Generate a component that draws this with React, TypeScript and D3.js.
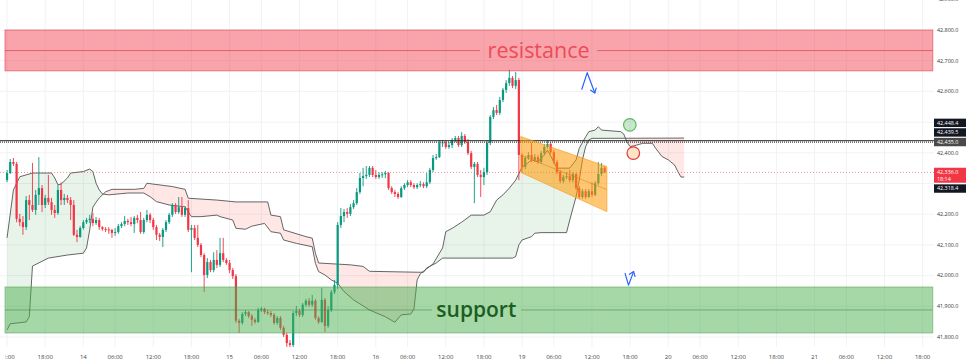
import React from "react";
import * as d3 from "d3";

// ---------------- data ----------------
const FIRST_BAR = -12; // bar index of first candle (bar 0 = 13th 18:00)
const FIRST_OPEN = 42311;

const closes = [
  42334, 42370, 42364, 42185, 42174, 42158, 42246, 42230, 42214, 42263,
  42285, 42230, 42253, 42239, 42214, 42204, 42279, 42246, 42253, 42246,
  42230, 42133, 42126, 42155, 42174, 42181, 42185, 42171, 42181, 42158,
  42152, 42150, 42149, 42139, 42142, 42161, 42168, 42178, 42174, 42168,
  42188, 42181, 42142, 42181, 42198, 42181, 42158, 42133, 42126, 42149,
  42174, 42198, 42230, 42207, 42223, 42198, 42220, 42149, 42155, 42123,
  42100, 42067, 42002, 42044, 42018, 42051, 42035, 42073, 42051, 42041,
  42018, 41998, 41853, 41846, 41875, 41881, 41868, 41856, 41849, 41888,
  41892, 41881, 41878, 41872, 41846, 41862, 41830, 41807, 41780, 41774,
  41878, 41885, 41872, 41905, 41918, 41905, 41918, 41862, 41849, 41921,
  41836, 41888, 41946, 41970, 42165, 42194, 42207, 42201, 42223, 42236,
  42272, 42318, 42324, 42328, 42351, 42328, 42321, 42328, 42330, 42334,
  42285, 42272, 42266, 42256, 42285, 42295, 42304, 42295, 42288, 42295,
  42298, 42291, 42304, 42344, 42383, 42386, 42432, 42434, 42419, 42425,
  42442, 42448, 42425, 42455, 42435, 42399, 42354, 42364, 42328, 42321,
  42337, 42432, 42517, 42539, 42530, 42572, 42605, 42627, 42644, 42618,
  42637, 42393, 42354, 42383, 42393, 42377, 42386, 42370, 42399, 42419,
  42429, 42402, 42370, 42337, 42308, 42321, 42324, 42311, 42331, 42285,
  42256, 42275, 42256, 42275, 42263, 42301, 42331, 42351, 42336,
];

const highs = [
  42344, 42380, 42383, 42370, 42201, 42194, 42259, 42263, 42367, 42279,
  42386, 42295, 42263, 42328, 42253, 42230, 42295, 42304, 42266, 42263,
  42256, 42246, 42149, 42161, 42181, 42188, 42198, 42204, 42191, 42188,
  42161, 42158, 42158, 42152, 42155, 42168, 42174, 42194, 42185, 42191,
  42194, 42198, 42207, 42188, 42214, 42204, 42188, 42165, 42139, 42155,
  42181, 42204, 42236, 42236, 42256, 42256, 42226, 42246, 42165, 42165,
  42165, 42106, 42073, 42057, 42051, 42076, 42083, 42123, 42123, 42057,
  42051, 42025, 42005, 41859, 41881, 41888, 41885, 41875, 41862, 41895,
  41898, 41895, 41888, 41885, 41878, 41868, 41868, 41836, 41813, 41790,
  41885, 41901, 41892, 41911, 41924, 41927, 41937, 41924, 41868, 41960,
  41927, 41901, 41953, 41986, 42174, 42220, 42217, 42220, 42233, 42246,
  42285, 42334, 42351, 42357, 42357, 42357, 42344, 42337, 42337, 42341,
  42337, 42291, 42279, 42272, 42291, 42301, 42311, 42311, 42301, 42301,
  42308, 42304, 42334, 42351, 42393, 42396, 42439, 42442, 42439, 42435,
  42448, 42455, 42455, 42467, 42461, 42445, 42406, 42370, 42370, 42344,
  42351, 42439, 42523, 42549, 42556, 42582, 42611, 42637, 42670, 42650,
  42663, 42644, 42399, 42390, 42402, 42432, 42396, 42393, 42406, 42429,
  42442, 42435, 42409, 42377, 42344, 42328, 42337, 42344, 42337, 42334,
  42291, 42282, 42282, 42282, 42304, 42308, 42370, 42367, 42357,
];

const lows = [
  42304, 42331, 42357, 42174, 42161, 42133, 42149, 42181, 42207, 42198,
  42230, 42207, 42220, 42230, 42198, 42188, 42198, 42230, 42230, 42236,
  42181, 42129, 42109, 42123, 42150, 42168, 42171, 42161, 42165, 42149,
  42146, 42142, 42136, 42123, 42129, 42136, 42155, 42161, 42165, 42161,
  42139, 42171, 42136, 42136, 42174, 42171, 42149, 42116, 42113, 42093,
  42142, 42168, 42191, 42201, 42201, 42191, 42191, 42142, 42011, 42116,
  42093, 42060, 41946, 41992, 42011, 42011, 42025, 42028, 42044, 42035,
  42008, 41989, 41846, 41813, 41840, 41868, 41862, 41836, 41843, 41846,
  41881, 41875, 41872, 41865, 41840, 41840, 41823, 41800, 41761, 41758,
  41767, 41868, 41865, 41865, 41898, 41898, 41898, 41856, 41843, 41846,
  41816, 41830, 41881, 41940, 41956, 42155, 42174, 42188, 42194, 42217,
  42230, 42266, 42291, 42315, 42321, 42321, 42315, 42315, 42318, 42318,
  42279, 42266, 42256, 42250, 42253, 42279, 42288, 42288, 42282, 42282,
  42288, 42285, 42285, 42298, 42337, 42377, 42383, 42419, 42413, 42413,
  42416, 42435, 42419, 42419, 42429, 42393, 42347, 42236, 42321, 42256,
  42295, 42328, 42425, 42510, 42523, 42523, 42565, 42595, 42618, 42611,
  42608, 42311, 42337, 42347, 42377, 42370, 42370, 42364, 42364, 42393,
  42413, 42396, 42364, 42331, 42301, 42301, 42315, 42304, 42304, 42279,
  42250, 42250, 42250, 42253, 42256, 42259, 42295, 42324, 42334,
];

// Ichimoku cloud spans: [bar, price]
const spanA: [number, number][] = [
  [-12, 42123], [-10, 42279], [-8, 42322], [-4, 42334], [2, 42334], [3, 42318],
  [4, 42296], [5, 42298], [7, 42318], [8, 42334], [12, 42339], [14, 42347],
  [15, 42339], [16, 42301], [17, 42279], [18, 42266], [20, 42263], [26, 42269],
  [31, 42269], [33, 42257], [35, 42241], [39, 42230], [44, 42224], [46, 42192],
  [49, 42192], [54, 42197], [55, 42192], [59, 42181], [60, 42154], [63, 42151],
  [65, 42161], [69, 42170], [71, 42143], [74, 42138], [75, 42116], [79, 42105],
  [84, 42094], [85, 42040], [86, 42013], [88, 42002], [90, 41986], [92, 41975],
  [94, 41948], [97, 41921], [102, 41888], [107, 41866], [110, 41848], [112, 41872],
  [115, 41875], [116, 41891], [117, 41986], [118, 42006], [120, 42022], [122, 42038],
  [125, 42090], [126, 42143], [128, 42154], [131, 42174], [134, 42197], [138, 42197],
  [140, 42208], [142, 42246], [144, 42263], [146, 42285], [148, 42311], [150, 42354],
  [151, 42360], [153, 42377], [155, 42371], [157, 42393], [158, 42409], [160, 42371],
  [161, 42350], [165, 42350], [167, 42377], [168, 42415], [170, 42452], [171, 42469],
  [173, 42474], [174, 42485], [175, 42474], [181, 42469], [182, 42461], [183, 42435],
  [184, 42420], [186, 42425], [188, 42431], [191, 42431], [192, 42415], [194, 42388],
  [196, 42377], [198, 42360], [199, 42339], [200, 42321], [201, 42321],
];
const spanB: [number, number][] = [
  [-12, 41823], [-11, 41843], [-6, 41849], [-5, 41866], [-4, 42031], [1, 42057],
  [7, 42067], [12, 42073], [13, 42090], [14, 42149], [15, 42223], [16, 42239],
  [17, 42253], [19, 42273], [21, 42281], [28, 42281], [31, 42284], [32, 42301],
  [34, 42298], [40, 42290], [44, 42281], [45, 42252], [54, 42246], [60, 42240],
  [70, 42240], [71, 42197], [74, 42192], [75, 42149], [82, 42127], [84, 42122],
  [85, 42073], [86, 42041], [96, 42035], [100, 42030], [102, 42014], [117, 42011],
  [119, 42011], [120, 42025], [123, 42041], [125, 42057], [147, 42057], [148, 42062],
  [149, 42100], [150, 42116], [153, 42127], [154, 42138], [156, 42140], [164, 42140],
  [165, 42181], [167, 42257], [168, 42311], [169, 42377], [170, 42420], [171, 42442],
  [172, 42447], [201, 42448],
];

const timeTickBars = [-12, 0, 12, 22, 34, 46, 58, 68, 80, 92, 104, 114, 126, 138, 150, 160, 172, 184, 196, 206, 218, 230, 242, 252, 264, 276];
const timeTickLabels = ["12:00", "18:00", "14", "06:00", "12:00", "18:00", "15", "06:00", "12:00", "18:00", "16", "06:00", "12:00", "18:00", "19", "06:00", "12:00", "18:00", "20", "06:00", "12:00", "18:00", "21", "06:00", "12:00", "18:00"];

const priceGrid = [41800, 41900, 42000, 42100, 42200, 42300, 42400, 42500, 42600, 42700, 42800, 42900];
const priceTickLabels = [41800, 41900, 42000, 42100, 42200, 42400, 42600, 42700, 42800, 42900];

const resistanceZone = [42667, 42733, 42800]; // low, mid, high
const supportZone = [41813, 41888, 41963];
const zoneBars = [-12.65, 279.2];
const resistanceGapBars = [136.8, 173.6];
const supportGapBars = [121.7, 149.7];
const resistanceLabelBar = 155.2;
const supportLabelBar = 135.6;

const channelBars = [149.6, 176.7];
const channelTop = [42453, 42355];
const channelMid = [42392, 42280];
const channelBottom = [42336, 42208];

const solidLevel = 42439.5;
const dottedLevel = 42435;
const lastPrice = 42336;

const arrowDown: [number, number][] = [[168.8, 42607], [170.5, 42661], [172.9, 42595]];
const arrowUp: [number, number][] = [[182.4, 42007], [183.5, 41969], [185.1, 42013]];
const greenCircle: [number, number] = [183.9, 42491];
const redCircle: [number, number] = [185.0, 42399];

const stackedLabels = ["42,448.4", "42,439.5", "42,435.0"]; // top -> bottom, anchored on dottedLevel
const lastLabel = ["42,336.0", "18:14"];
const belowLabel = "42,318.4";

// ---------------- layout ----------------
const W = 974;
const H = 364;
const PLOT_R = 934;
const PLOT_B = 347;
const PANE_L = 5.5;

const x = d3.scaleLinear().domain([0, 100]).range([45.2, 45.2 + 317.9]);
const y = d3.scaleLinear().domain([41800, 42800]).range([337, 30]);

const UP = "#089981";
const DOWN = "#f23645";

function arrowHead(p: [number, number], q: [number, number], len = 5, ang = Math.PI / 5) {
  const a = Math.atan2(q[1] - p[1], q[0] - p[0]);
  const l = [q[0] - len * Math.cos(a - ang), q[1] - len * Math.sin(a - ang)];
  const r = [q[0] - len * Math.cos(a + ang), q[1] - len * Math.sin(a + ang)];
  return `M${l[0]},${l[1]}L${q[0]},${q[1]}L${r[0]},${r[1]}`;
}

export default function App() {
  const line = d3
    .line<[number, number]>()
    .x((d) => x(d[0]))
    .y((d) => y(d[1]));

  const cloudPoly = (line([...spanA, ...spanB.slice().reverse()]) || "") + "Z";
  const aboveB = (line([...spanB, [206, 43600], [-17, 43600]]) || "") + "Z";
  const belowB = (line([...spanB, [206, 41000], [-17, 41000]]) || "") + "Z";

  const chanPoly =
    (line([
      [channelBars[0], channelTop[0]],
      [channelBars[1], channelTop[1]],
      [channelBars[1], channelBottom[1]],
      [channelBars[0], channelBottom[0]],
    ]) || "") + "Z";

  const arrowPx = (pts: [number, number][]) => pts.map((p) => [x(p[0]), y(p[1])] as [number, number]);
  const a1 = arrowPx(arrowDown);
  const a2 = arrowPx(arrowUp);

  const zx0 = x(zoneBars[0]);
  const zx1 = x(zoneBars[1]);

  const boxH = 8.4;
  const boxGap = 1.2;
  const dottedY = y(dottedLevel);
  const lastY = y(lastPrice);
  const fontFam = "'Open Sans', 'DejaVu Sans', sans-serif";

  return (
    <svg
      width={W}
      height={H}
      style={{ position: "absolute", left: 0, top: 0, background: "#fff" }}
      fontFamily={fontFam}
    >
      <defs>
        <clipPath id="plot">
          <rect x={0} y={0} width={PLOT_R} height={PLOT_B} />
        </clipPath>
        <clipPath id="timeAxis">
          <rect x={PANE_L} y={PLOT_B} width={PLOT_R + 40} height={H - PLOT_B} />
        </clipPath>
        <clipPath id="aboveB">
          <path d={aboveB} />
        </clipPath>
        <clipPath id="belowB">
          <path d={belowB} />
        </clipPath>
      </defs>

      {/* grid */}
      <g stroke="#f0f2f6" strokeWidth={1}>
        {priceGrid.map((p) => (
          <line key={"h" + p} x1={0} x2={PLOT_R} y1={y(p)} y2={y(p)} />
        ))}
        {timeTickBars.map((b, i) => (
          <line key={"v" + i} x1={x(b)} x2={x(b)} y1={0} y2={PLOT_B} />
        ))}
      </g>

      <g clipPath="url(#plot)">
        {/* cloud */}
        <g clipPath="url(#aboveB)">
          <path d={cloudPoly} fill="rgba(67,160,71,0.12)" />
        </g>
        <g clipPath="url(#belowB)">
          <path d={cloudPoly} fill="rgba(244,67,54,0.13)" />
        </g>
        <path d={line(spanA) || ""} fill="none" stroke="#555" strokeWidth={1} strokeOpacity={0.9} />
        <path d={line(spanB) || ""} fill="none" stroke="#555" strokeWidth={1} strokeOpacity={0.9} />

        {/* last price dotted line */}
        <line x1={0} x2={PLOT_R} y1={lastY} y2={lastY} stroke={DOWN} strokeOpacity={0.55} strokeDasharray="1,2" />

        {/* candles */}
        {closes.map((c, i) => {
          const k = FIRST_BAR + i;
          const o = i === 0 ? FIRST_OPEN : closes[i - 1];
          const col = c >= o ? UP : DOWN;
          const cx = x(k);
          const yt = y(Math.max(o, c));
          const yb = y(Math.min(o, c));
          return (
            <g key={i}>
              <line x1={cx} x2={cx} y1={y(highs[i])} y2={y(lows[i])} stroke={col} strokeWidth={0.9} />
              <rect x={cx - 1.1} width={2.2} y={yt} height={Math.max(1, yb - yt)} fill={col} />
            </g>
          );
        })}

        {/* horizontal levels */}
        <line x1={0} x2={PLOT_R} y1={y(solidLevel)} y2={y(solidLevel)} stroke="#2a2a2a" strokeWidth={1} />
        <line x1={0} x2={PLOT_R} y1={dottedY} y2={dottedY} stroke="#444" strokeWidth={1.2} strokeDasharray="1,1" />

        {/* resistance zone */}
        <rect
          x={zx0}
          width={zx1 - zx0}
          y={y(resistanceZone[2])}
          height={y(resistanceZone[0]) - y(resistanceZone[2])}
          fill="rgba(242,54,69,0.45)"
          stroke="rgba(220,50,60,0.55)"
          strokeWidth={1}
        />
        <line x1={zx0} x2={x(resistanceGapBars[0])} y1={y(resistanceZone[1])} y2={y(resistanceZone[1])} stroke="rgba(210,40,55,0.55)" />
        <line x1={x(resistanceGapBars[1])} x2={zx1} y1={y(resistanceZone[1])} y2={y(resistanceZone[1])} stroke="rgba(210,40,55,0.55)" />
        <text
          x={x(resistanceLabelBar)}
          y={y(resistanceZone[1])}
          dy="0.33em"
          textAnchor="middle"
          fontSize={21.5}
          fill="#ec4b58"
          fontWeight={500}
        >
          resistance
        </text>

        {/* support zone */}
        <rect
          x={zx0}
          width={zx1 - zx0}
          y={y(supportZone[2])}
          height={y(supportZone[0]) - y(supportZone[2])}
          fill="rgba(76,175,80,0.5)"
          stroke="rgba(60,150,64,0.45)"
          strokeWidth={1}
        />
        <line x1={zx0} x2={x(supportGapBars[0])} y1={y(supportZone[1])} y2={y(supportZone[1])} stroke="rgba(46,125,50,0.45)" />
        <line x1={x(supportGapBars[1])} x2={zx1} y1={y(supportZone[1])} y2={y(supportZone[1])} stroke="rgba(46,125,50,0.45)" />
        <text
          x={x(supportLabelBar)}
          y={y(supportZone[1])}
          dy="0.33em"
          textAnchor="middle"
          fontSize={21}
          fill="#1b5e20"
          fontWeight={600}
        >
          support
        </text>

        {/* channel */}
        <path d={chanPoly} fill="rgba(255,152,0,0.55)" stroke="rgba(245,150,20,0.7)" strokeWidth={0.8} />
        <line
          x1={x(channelBars[0])}
          x2={x(channelBars[1])}
          y1={y(channelMid[0])}
          y2={y(channelMid[1])}
          stroke="rgba(220,120,0,0.6)"
          strokeWidth={0.8}
        />

        {/* arrows */}
        <g fill="none" stroke="#2962ff" strokeWidth={1.2} strokeLinecap="round" strokeLinejoin="round">
          <path d={d3.line()(a1) || ""} />
          <path d={arrowHead(a1[1], a1[2])} />
          <path d={d3.line()(a2) || ""} />
          <path d={arrowHead(a2[1], a2[2])} />
        </g>

        {/* circles */}
        <circle cx={x(greenCircle[0])} cy={y(greenCircle[1])} r={6.3} fill="rgba(76,175,80,0.3)" stroke="#5cb860" strokeWidth={1.2} />
        <circle cx={x(redCircle[0])} cy={y(redCircle[1])} r={6.3} fill="#fde3c8" stroke="#e53935" strokeWidth={1.2} />
      </g>

      {/* time axis */}
      <g fontSize={6} fill="#444" textAnchor="middle" clipPath="url(#timeAxis)">
        {timeTickBars.map((b, i) => (
          <text key={i} x={x(b)} y={358.5}>
            {timeTickLabels[i]}
          </text>
        ))}
      </g>

      {/* price axis */}
      <g fontSize={5.4} fill="#333">
        {priceTickLabels.map((p) => (
          <text key={p} x={937} y={y(p)} dy="0.35em">
            {d3.format(",.1f")(p)}
          </text>
        ))}
      </g>

      {/* price label boxes */}
      <g fontSize={5.4}>
        {stackedLabels.map((t, i) => {
          const idx = stackedLabels.length - 1 - i;
          const top = dottedY - boxH / 2 - idx * (boxH + boxGap);
          const grey = i === stackedLabels.length - 1;
          return (
            <g key={t}>
              <rect x={934} y={top} width={32} height={boxH} fill={grey ? "#4a4a4a" : "#131722"} />
              <text x={937} y={top + boxH / 2} dy="0.35em" fill="#fff">
                {t}
              </text>
            </g>
          );
        })}
        <rect x={934} y={lastY - 4.7} width={32} height={15} fill={DOWN} />
        <text x={937} y={lastY} dy="0.35em" fill="#fff">
          {lastLabel[0]}
        </text>
        <text x={937} y={lastY + 6.4} dy="0.35em" fill="#fff">
          {lastLabel[1]}
        </text>
        <rect x={934} y={lastY + 11.9} width={32} height={boxH} fill="#131722" />
        <text x={937} y={lastY + 11.9 + boxH / 2} dy="0.35em" fill="#fff">
          {belowLabel}
        </text>
      </g>
    </svg>
  );
}
